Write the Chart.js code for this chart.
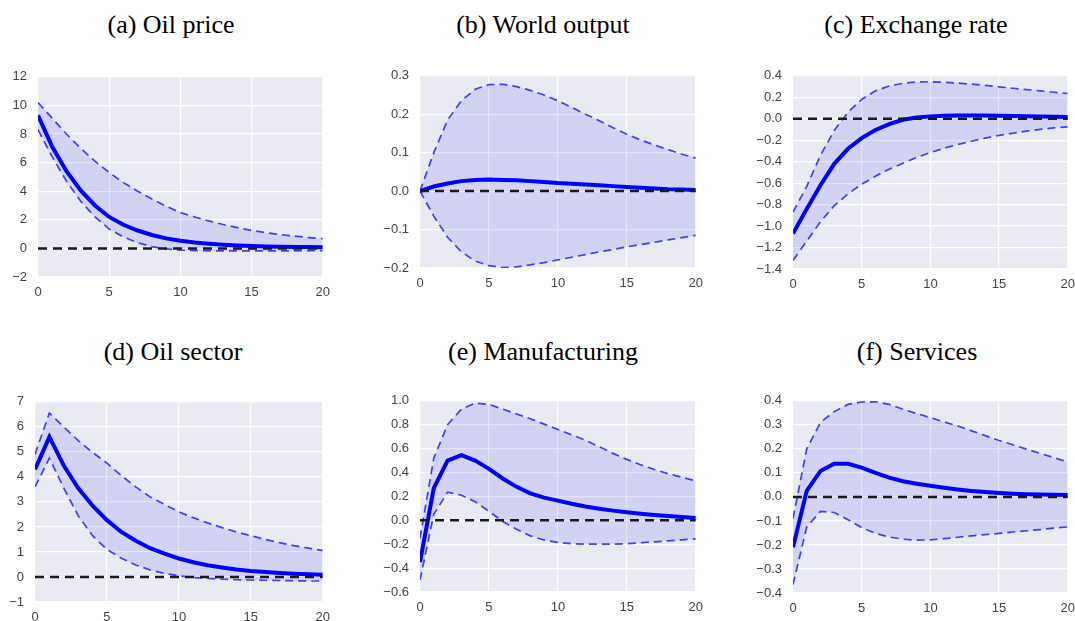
<!DOCTYPE html>
<html>
<head>
<meta charset="utf-8">
<script src="https://cdn.jsdelivr.net/npm/chart.js@4.4.1/dist/chart.umd.min.js"></script>
<style>
  html, body { margin: 0; padding: 0; background: #fff; overflow: hidden; }
  body { width: 1075px; height: 621px; position: relative; }
  .panel { position: absolute; }
  .title {
    position: absolute; width: 340px; margin-left: -170px; text-align: center;
    font-family: "Liberation Serif", "Times New Roman", serif; font-size: 26px;
    line-height: 26px; color: #000; white-space: nowrap;
  }
</style>
</head>
<body>
<script>
// impulse response horizon
const horizon = [0, 1, 2, 3, 4, 5, 6, 7, 8, 9, 10, 11, 12, 13, 14, 15, 16, 17, 18, 19, 20];
const xTicks = [0, 5, 10, 15, 20];

const titles = ['(a) Oil price', '(b) World output', '(c) Exchange rate',
                '(d) Oil sector', '(e) Manufacturing', '(f) Services'];

// (a) oil price
const oilPriceMid   = [9.3, 7.1, 5.4, 4.05, 3.0, 2.2, 1.65, 1.25, 0.94, 0.7, 0.53, 0.41, 0.32, 0.25, 0.2, 0.16, 0.13, 0.11, 0.1, 0.09, 0.08];
const oilPriceUpper = [10.2, 9.1, 8.0, 7.0, 6.1, 5.3, 4.6, 4.0, 3.45, 2.95, 2.5, 2.2, 1.92, 1.67, 1.45, 1.25, 1.1, 0.97, 0.86, 0.76, 0.68];
const oilPriceLower = [8.3, 6.4, 4.7, 3.3, 2.2, 1.35, 0.8, 0.4, 0.12, -0.04, -0.12, -0.15, -0.17, -0.18, -0.18, -0.18, -0.18, -0.17, -0.17, -0.16, -0.15];
const oilPriceTicks = [-2, 0, 2, 4, 6, 8, 10, 12];

// (b) world output
const worldMid   = [0, 0.012, 0.02, 0.026, 0.029, 0.03, 0.029, 0.028, 0.026, 0.024, 0.021, 0.019, 0.017, 0.015, 0.013, 0.011, 0.009, 0.007, 0.005, 0.004, 0.003];
const worldUpper = [0, 0.1, 0.185, 0.235, 0.265, 0.277, 0.278, 0.272, 0.262, 0.25, 0.235, 0.218, 0.2, 0.183, 0.165, 0.148, 0.133, 0.12, 0.108, 0.096, 0.086];
const worldLower = [0, -0.065, -0.12, -0.158, -0.182, -0.194, -0.199, -0.197, -0.192, -0.186, -0.179, -0.172, -0.165, -0.158, -0.152, -0.145, -0.139, -0.133, -0.127, -0.121, -0.115];
const worldTicks = [-0.2, -0.1, 0, 0.1, 0.2, 0.3];

// (c) exchange rate
const fxMid   = [-1.07, -0.84, -0.62, -0.42, -0.28, -0.18, -0.105, -0.05, -0.01, 0.012, 0.022, 0.027, 0.029, 0.03, 0.029, 0.028, 0.026, 0.024, 0.021, 0.018, 0.015];
const fxUpper = [-0.87, -0.63, -0.34, -0.11, 0.06, 0.18, 0.26, 0.305, 0.33, 0.342, 0.345, 0.34, 0.332, 0.322, 0.31, 0.297, 0.284, 0.272, 0.26, 0.247, 0.235];
const fxLower = [-1.32, -1.14, -0.96, -0.81, -0.7, -0.61, -0.535, -0.47, -0.415, -0.36, -0.315, -0.275, -0.24, -0.21, -0.18, -0.155, -0.135, -0.115, -0.1, -0.085, -0.075];
const fxTicks = [-1.4, -1.2, -1.0, -0.8, -0.6, -0.4, -0.2, 0, 0.2, 0.4];

// (d) oil sector
const oilSectorMid   = [4.3, 5.6, 4.45, 3.55, 2.85, 2.27, 1.8, 1.45, 1.15, 0.93, 0.74, 0.59, 0.47, 0.38, 0.3, 0.24, 0.2, 0.16, 0.13, 0.11, 0.09];
const oilSectorUpper = [4.9, 6.55, 6.0, 5.45, 4.98, 4.55, 4.05, 3.6, 3.2, 2.9, 2.6, 2.37, 2.16, 1.97, 1.8, 1.65, 1.5, 1.37, 1.25, 1.15, 1.05];
const oilSectorLower = [3.6, 4.75, 3.55, 2.45, 1.65, 1.1, 0.75, 0.48, 0.28, 0.14, 0.05, -0.02, -0.06, -0.09, -0.11, -0.12, -0.13, -0.14, -0.15, -0.16, -0.16];
const oilSectorTicks = [-1, 0, 1, 2, 3, 4, 5, 6, 7];

// (e) manufacturing
const manufMid   = [-0.35, 0.27, 0.5, 0.545, 0.5, 0.43, 0.35, 0.28, 0.225, 0.19, 0.165, 0.138, 0.115, 0.097, 0.081, 0.067, 0.055, 0.045, 0.036, 0.028, 0.02];
const manufUpper = [-0.15, 0.52, 0.8, 0.93, 0.98, 0.97, 0.93, 0.89, 0.85, 0.805, 0.76, 0.715, 0.67, 0.615, 0.56, 0.51, 0.465, 0.425, 0.39, 0.36, 0.33];
const manufLower = [-0.5, 0.05, 0.235, 0.21, 0.155, 0.075, -0.01, -0.075, -0.13, -0.165, -0.185, -0.195, -0.2, -0.2, -0.2, -0.195, -0.188, -0.18, -0.172, -0.163, -0.155];
const manufTicks = [-0.6, -0.4, -0.2, 0, 0.2, 0.4, 0.6, 0.8, 1.0];

// (f) services
const servicesMid   = [-0.21, 0.025, 0.108, 0.138, 0.138, 0.122, 0.1, 0.08, 0.065, 0.055, 0.046, 0.038, 0.031, 0.025, 0.02, 0.016, 0.013, 0.011, 0.01, 0.009, 0.008];
const servicesUpper = [-0.09, 0.2, 0.31, 0.355, 0.385, 0.395, 0.396, 0.385, 0.365, 0.347, 0.33, 0.312, 0.295, 0.275, 0.255, 0.235, 0.217, 0.199, 0.181, 0.163, 0.145];
const servicesLower = [-0.365, -0.125, -0.06, -0.065, -0.095, -0.128, -0.152, -0.167, -0.176, -0.18, -0.179, -0.174, -0.168, -0.162, -0.157, -0.152, -0.146, -0.141, -0.136, -0.13, -0.125];
const servicesTicks = [-0.4, -0.3, -0.2, -0.1, 0, 0.1, 0.2, 0.3, 0.4];

// plot-area boxes (page px) and title anchors
const panels = [
  { mid: oilPriceMid, up: oilPriceUpper, lo: oilPriceLower, ticks: oilPriceTicks, dec: 0, box: [38, 70, 324, 277], tx: 171, ty: 12 },
  { mid: worldMid, up: worldUpper, lo: worldLower, ticks: worldTicks, dec: 1, box: [420, 69, 697, 268], tx: 543, ty: 12 },
  { mid: fxMid, up: fxUpper, lo: fxLower, ticks: fxTicks, dec: 1, box: [793, 69, 1069, 269], tx: 916, ty: 12 },
  { mid: oilSectorMid, up: oilSectorUpper, lo: oilSectorLower, ticks: oilSectorTicks, dec: 0, box: [35, 395, 324, 602], tx: 173, ty: 339 },
  { mid: manufMid, up: manufUpper, lo: manufLower, ticks: manufTicks, dec: 1, box: [420, 394, 697, 592], tx: 543, ty: 339 },
  { mid: servicesMid, up: servicesUpper, lo: servicesLower, ticks: servicesTicks, dec: 1, box: [793, 394, 1069, 593], tx: 917, ty: 339 }
];

const PAD_L = 60, PAD_T = 12, PAD_R = 14, PAD_B = 28;

const plotBackground = {
  id: 'plotBackground',
  beforeDraw(chart) {
    const { ctx, chartArea: a } = chart;
    ctx.save();
    ctx.fillStyle = '#EAEAF2';
    ctx.fillRect(a.left, a.top, a.right - a.left, a.bottom - a.top);
    ctx.restore();
  }
};

const pts = (arr) => arr.map((v, i) => ({ x: horizon[i], y: v }));
const fmt = (v, dec) => v.toFixed(dec).replace('-', '\u2212');

panels.forEach((p, k) => {
  const [L, T, R, B] = p.box;
  const div = document.createElement('div');
  div.className = 'panel';
  const w = (R - L) + PAD_L + PAD_R, h = (B - T) + PAD_T + PAD_B;
  div.style.left = (L - PAD_L) + 'px';
  div.style.top = (T - PAD_T) + 'px';
  div.style.width = w + 'px';
  div.style.height = h + 'px';
  const canvas = document.createElement('canvas');
  div.appendChild(canvas);
  document.body.appendChild(div);

  const title = document.createElement('div');
  title.className = 'title';
  title.style.left = p.tx + 'px';
  title.style.top = p.ty + 'px';
  title.textContent = titles[k];
  document.body.appendChild(title);

  new Chart(canvas, {
    type: 'line',
    data: {
      datasets: [
        { data: pts(horizon.map(() => 0)), borderColor: '#1a1a1a', borderWidth: 2.5, borderDash: [9, 6], order: 0 },
        { data: pts(p.mid), borderColor: '#0000FF', borderWidth: 4, order: 1 },
        { data: pts(p.up), borderColor: 'rgba(0,0,255,0.72)', borderWidth: 1.7, borderDash: [8, 5],
          fill: '+1', backgroundColor: 'rgba(0,0,255,0.1)', order: 2 },
        { data: pts(p.lo), borderColor: 'rgba(0,0,255,0.72)', borderWidth: 1.7, borderDash: [8, 5], order: 3 }
      ]
    },
    options: {
      responsive: true,
      maintainAspectRatio: false,
      animation: false,
      layout: { padding: { left: 0, top: PAD_T, right: PAD_R, bottom: 0 } },
      elements: { point: { radius: 0 }, line: { tension: 0, fill: false } },
      plugins: {
        legend: { display: false },
        tooltip: { enabled: false },
        filler: { drawTime: 'beforeDatasetsDraw' }
      },
      scales: {
        x: {
          type: 'linear', min: 0, max: 20,
          afterBuildTicks: (s) => { s.ticks = xTicks.map(v => ({ value: v })); },
          afterFit: (s) => { s.height = PAD_B; },
          grid: { color: '#FFFFFF', lineWidth: 1.2, drawTicks: false },
          border: { display: false },
          ticks: { padding: 8, color: '#444', font: { family: 'Liberation Sans, Arial, sans-serif', size: 13 },
                   callback: (v) => String(v) }
        },
        y: {
          min: p.ticks[0], max: p.ticks[p.ticks.length - 1],
          afterBuildTicks: (s) => { s.ticks = p.ticks.map(v => ({ value: v })); },
          afterFit: (s) => { s.width = PAD_L; },
          grid: { color: '#FFFFFF', lineWidth: 1.2, drawTicks: false },
          border: { display: false },
          ticks: { padding: 11, color: '#444', font: { family: 'Liberation Sans, Arial, sans-serif', size: 13 },
                   callback: (v) => fmt(v, p.dec) }
        }
      }
    },
    plugins: [plotBackground]
  });
});
</script>
</body>
</html>
